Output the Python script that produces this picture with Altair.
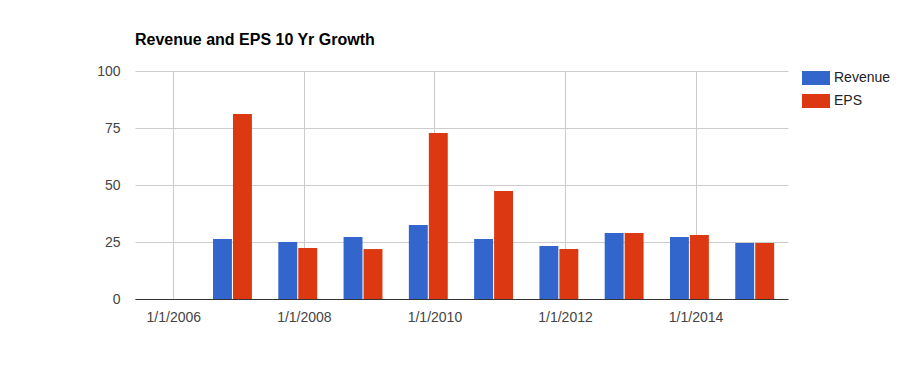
import altair as alt
import pandas as pd

years = [2007, 2008, 2009, 2010, 2011, 2012, 2013, 2014, 2015]
revenue = [26.3, 25.0, 27.2, 32.5, 26.3, 23.2, 29.0, 27.2, 24.6]
eps = [81.1, 22.4, 21.9, 72.8, 47.4, 21.9, 29.0, 28.1, 24.6]
series = ["Revenue", "EPS"]
colors = ["#3366cc", "#dc3912"]
x_ticks = [2006, 2008, 2010, 2012, 2014]
y_ticks = [0, 25, 50, 75, 100]

rows = []
for y, r, e in zip(years, revenue, eps):
    rows.append({"year": y, "series": "Revenue", "value": r, "order": 0})
    rows.append({"year": y, "series": "EPS", "value": e, "order": 1})
df = pd.DataFrame(rows)

FONT = "Liberation Sans"

bars = alt.Chart(df).transform_calculate(
    center="datum.year - 0.094",
    xs="datum.order == 0 ? datum.center - 0.298 : datum.center + 0.008",
    xe="datum.order == 0 ? datum.center - 0.008 : datum.center + 0.298",
).mark_bar().encode(
    x=alt.X("xs:Q",
            scale=alt.Scale(domain=[2005.413, 2015.416], nice=False, zero=False),
            axis=alt.Axis(values=x_ticks, labelExpr="'1/1/' + datum.value",
                          title=None, ticks=False, grid=True, gridColor="#cccccc",
                          domainColor="#333333", labelPadding=11, labelFontSize=14,
                          labelColor="#444444", labelFont=FONT)),
    x2="xe:Q",
    y=alt.Y("value:Q",
            scale=alt.Scale(domain=[0, 100], nice=False),
            axis=alt.Axis(values=y_ticks, title=None, ticks=False, domain=False,
                          gridColor="#cccccc", labelPadding=15, labelFontSize=14,
                          labelColor="#444444", labelFont=FONT)),
    y2=alt.datum(0),
    color=alt.Color("series:N",
                    scale=alt.Scale(domain=series, range=colors),
                    legend=alt.Legend(title=None, orient="none", legendX=674, legendY=0,
                                      symbolType="M-2,-1H2V1H-2Z", symbolSize=196,
                                      symbolStrokeWidth=0, labelOffset=11,
                                      labelFontSize=14, labelColor="#222222",
                                      labelFont=FONT, rowPadding=9)),
)

chart = bars.properties(
    width=653, height=228,
    title=alt.TitleParams("Revenue and EPS 10 Yr Growth", anchor="start", fontSize=16,
                          fontWeight="bold", font=FONT, color="#000000",
                          baseline="alphabetic", offset=3, frame="group"),
    autosize=alt.AutoSizeParams(type="none"),
    padding={"left": 127, "top": 63, "right": 120, "bottom": 50},
).configure_view(stroke=None)

chart.save("out.html", embed_options={"renderer": "svg", "actions": False})
